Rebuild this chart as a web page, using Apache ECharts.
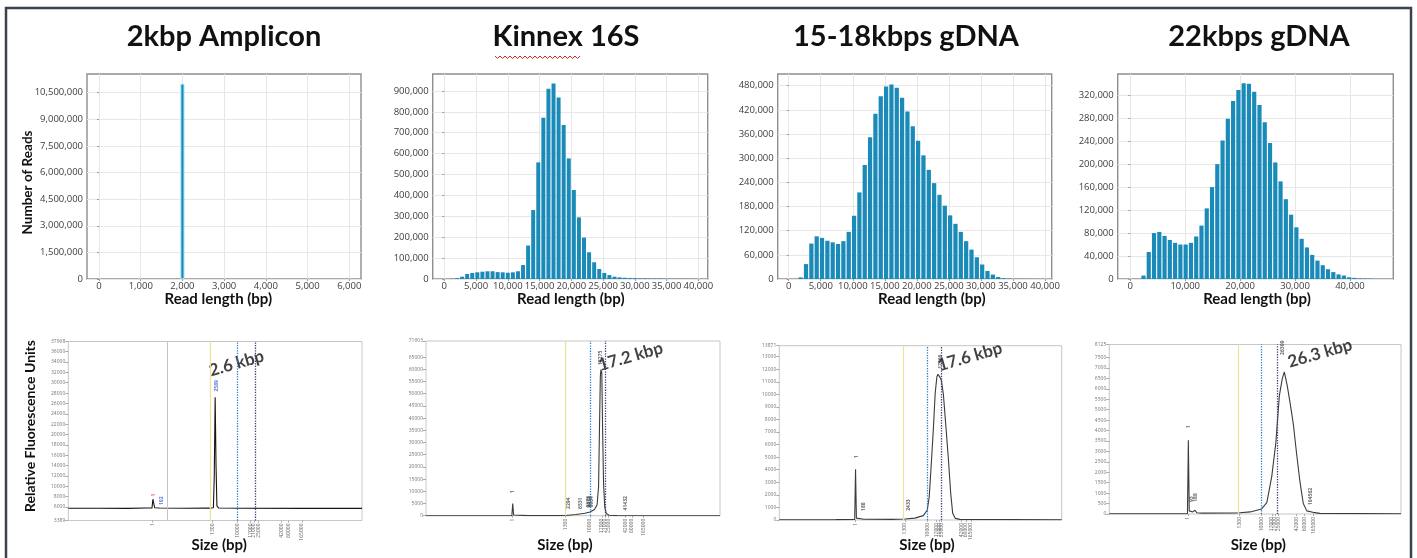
<!DOCTYPE html>
<html lang="en">
<head>
<meta charset="utf-8">
<title>Read length histograms and Femto Pulse traces</title>
<script src="https://cdn.jsdelivr.net/npm/echarts@6.0.0/dist/echarts.min.js"></script>
<style>
  html, body { margin: 0; padding: 0; background: #fff; }
  #box { width: 1417px; height: 558px; }
</style>
</head>
<body>
<!-- one canvas, eight grids: read length histograms on top, Femto Pulse traces below -->
<div id="box"></div>
<script>
// ---------- panel titles ----------
const panelTitles = ['2kbp Amplicon', 'Kinnex 16S', '15-18kbps gDNA', '22kbps gDNA'];

// ---------- top row: read length histograms ----------
// bar centre = first + i * bin (bp), value = number of reads in that bin
const ampliconCenters = [2000];
const ampliconReads = [11000000];

const kinnexFirst = 400, kinnexBin = 800;
const kinnexReads = [0, 1000, 4000, 11000, 24000, 29000, 32000, 35000, 37000, 37000,
  33000, 32000, 30000, 32000, 37000, 67000, 160000, 330000, 558000, 772000,
  911000, 936000, 868000, 737000, 577000, 426000, 295000, 198000, 128000, 80000,
  48000, 29000, 19000, 11000, 8000, 6000, 5000, 4000, 3000, 3000,
  2000, 2000, 2000, 1500, 1000, 1000, 1000, 800, 600, 500];

const gdna18First = 1870, gdna18Bin = 833;
const gdna18Reads = [4000, 37000, 88000, 106000, 102000, 95000, 91000, 87000, 94000, 117000,
  157000, 215000, 283000, 352000, 410000, 454000, 478000, 483000, 475000, 450000,
  416000, 379000, 343000, 307000, 271000, 238000, 209000, 182000, 158000, 137000,
  117000, 94000, 73000, 54000, 36000, 20000, 11000, 5000, 2000, 1000, 500, 300, 200];

const gdna22First = 2400, gdna22Bin = 960;
const gdna22Reads = [6000, 47000, 80000, 82000, 75000, 68000, 63000, 60000, 60000, 63000,
  74000, 93000, 123000, 160000, 200000, 241000, 279000, 310000, 329000, 341000,
  340000, 326000, 303000, 273000, 237000, 203000, 170000, 139000, 112000, 90000,
  70000, 55000, 42000, 32000, 24000, 17000, 12000, 8000, 6000, 3000,
  2000, 1000, 800, 500];

// tick labels of the histograms
const ampliconXTicks = [0, 1000, 2000, 3000, 4000, 5000, 6000];
const kb40XTicks = [0, 5000, 10000, 15000, 20000, 25000, 30000, 35000, 40000];
const kb10XTicks = [0, 10000, 20000, 30000, 40000];
const ampliconYTicks = [0, 1500000, 3000000, 4500000, 6000000, 7500000, 9000000, 10500000];
const kinnexYTicks = [0, 100000, 200000, 300000, 400000, 500000, 600000, 700000, 800000, 900000];
const gdna18YTicks = [0, 60000, 120000, 180000, 240000, 300000, 360000, 420000, 480000];
const gdna22YTicks = [0, 40000, 80000, 120000, 160000, 200000, 240000, 280000, 320000];

// ---------- bottom row: Femto Pulse electropherograms ----------
// x = migration position (0-100 across the plot), y = relative fluorescence units
const ampTrace = [[0, 5750], [10, 5760], [20, 5740], [26.5, 5790], [28.5, 5800], [28.8, 7500],
  [29.1, 7480], [29.4, 5850], [31, 5790], [40, 5760], [48, 5770], [49.4, 5850], [49.7, 12000],
  [50.0, 27200], [50.3, 14000], [50.6, 6200], [51.2, 5800], [60, 5760], [80, 5740], [100, 5730]];
const kinnexTrace = [[0, 0], [29.2, 0], [29.5, 5000], [29.8, 300], [30.3, 80], [35, 40], [45, 50],
  [47.5, 100], [51, 500], [54, 1000], [55.8, 1500], [57.3, 2500], [58.2, 4500], [58.7, 12000],
  [59.0, 35000], [59.3, 57000], [59.5, 59900], [59.8, 58500], [60.1, 33000], [60.4, 13000],
  [60.8, 3500], [61.3, 900], [62.3, 200], [65, 40], [100, 0]];
const gdna18Trace = [[0, 20], [20, 30], [26.7, 40], [27.0, 4030], [27.3, 150], [28, 90], [30, 60],
  [40, 50], [44.5, 80], [48, 150], [51, 350], [52.4, 800], [53.1, 1850], [53.9, 4770], [54.6, 7430],
  [55.2, 10080], [55.8, 11400], [56.2, 11600], [56.9, 11350], [57.4, 11100], [58.1, 10000],
  [59.0, 7430], [59.9, 4770], [60.7, 2120], [61.4, 530], [62.3, 130], [64, 50], [100, 20]];
const gdna22Trace = [[0, 10], [12.0, 10], [12.2, 40], [12.5, 10], [26.8, 20], [27.1, 3530],
  [27.4, 150], [28.0, 200], [28.6, 100], [29.4, 180], [30.0, 60], [32, 40], [44, 50], [48.3, 100],
  [52.2, 242], [54.0, 547], [55.7, 1805], [57.1, 3422], [58.3, 5678], [59.3, 6486], [60.0, 6810],
  [61.0, 6150], [62.0, 5300], [63.1, 4300], [64.2, 2900], [65.4, 1500], [66.5, 500], [67.7, 150],
  [69.8, 80], [72.2, 30], [100, 10]];

// ladder sizes printed under each trace, and where they sit on each trace
const sizeLabels = ['1', '1300', '10000', '17000', '21000', '25000', '42000', '60000', '165000'];
const ampSizePos = [28.7, 49.0, 57.5, 61.9, 63.2, 64.7, 72.6, 75.0, 79.5];
const kinnexSizePos = [29.5, 47.5, 55.8, 59.8, 60.9, 62.0, 67.9, 70.0, 73.9];
const gdna18SizePos = [27.0, 44.5, 52.4, 55.7, 56.7, 57.4, 64.6, 66.1, 67.9];
const gdna22SizePos = [26.9, 44.5, 52.2, 55.8, 56.8, 57.9, 64.2, 66.9, 69.9];

// RFU tick labels
const ampYTicks = [3389, 6000, 8000, 10000, 12000, 14000, 16000, 18000, 20000, 22000, 24000,
  26000, 28000, 30000, 32000, 34000, 36000, 37968];
const kinnexRfuTicks = [0, 5000, 10000, 15000, 20000, 25000, 30000, 35000, 40000, 45000, 50000,
  55000, 60000, 65000, 71603];
const gdna18RfuTicks = [0, 1000, 2000, 3000, 4000, 5000, 6000, 7000, 8000, 9000, 10000, 11000,
  12000, 13000, 13871];
const gdna22RfuTicks = [0, 500, 1000, 1500, 2000, 2500, 3000, 3500, 4000, 4500, 5000, 5500, 6000,
  6500, 7000, 7500, 8125];

// smear window markers: [lower marker (yellow), range start (blue), range end (purple)]
const ampMarkers = [48.5, 57.5, 63.5];
const kinnexMarkers = [47.5, 55.8, 61.0];
const gdna18Markers = [43.9, 52.4, 57.2];
const gdna22Markers = [44.2, 52.2, 57.5];

// small peak calls [position, rfu, text]
const ampPeaks = [[29.0, 8300, '1'], [31.8, 7200, '102'], [50.4, 29400, '2589']];
const kinnexPeaks = [[29.5, 9800, '1'], [48.5, 5100, '2294'], [52.7, 5100, '6531'], [55.2, 5700, '9373'],
  [55.8, 5700, '9858'], [56.3, 5700, '9964'], [59.4, 64700, '17275'], [67.9, 5100, '41432']];
const gdna18Peaks = [[27.4, 5040, '1'], [29.8, 1060, '188'], [45.9, 1190, '2433'], [57.1, 12600, '17566']];
const gdna22Peaks = [[27.1, 4180, '1'], [28.2, 710, '93'], [29.7, 790, '188'], [59.4, 7970, '26309'],
  [69.0, 840, '104562']];

// main peak call written next to each trace
const peakNotes = [[57.3, 33740, '2.6 kbp'], [69.6, 65200, '17.2 kbp'], [67.5, 12990, '17.6 kbp'], [72.2, 7700, '26.3 kbp']];

// ---------- drawing ----------
const sans = '"Open Sans", "DejaVu Sans", sans-serif';
const heavy = 'Lato, "Open Sans", sans-serif';
const fmt = v => Number(v).toLocaleString('en-US');
const bins = (first, bin, reads) => reads.map((v, i) => [first + i * bin, v]);

const histPanels = [
  { left: 87, width: 274, xMin: -288, xMax: 6280, xTicks: ampliconXTicks, yMax: 11550000, yTicks: ampliconYTicks,
    data: ampliconCenters.map((c, i) => [c, ampliconReads[i]]), barWidth: 4, edge: '#8ee0f1' },
  { left: 432.7, width: 275, xMin: -1827, xMax: 41480, xTicks: kb40XTicks, yMax: 981000, yTicks: kinnexYTicks,
    data: bins(kinnexFirst, kinnexBin, kinnexReads), bin: kinnexBin },
  { left: 777.7, width: 274, xMin: -1717, xMax: 41044, xTicks: kb40XTicks, yMax: 509000, yTicks: gdna18YTicks,
    data: bins(gdna18First, gdna18Bin, gdna18Reads), bin: gdna18Bin },
  { left: 1117.7, width: 275.6, xMin: -2294, xMax: 47885, xTicks: kb10XTicks, yMax: 357000, yTicks: gdna22YTicks,
    data: bins(gdna22First, gdna22Bin, gdna22Reads), bin: gdna22Bin }
];

const tracePanels = [
  { left: 68.3, top: 341.5, width: 293.7, height: 179, yMin: 3389, yMax: 37968, yTicks: ampYTicks,
    sizePos: ampSizePos, trace: ampTrace, markers: ampMarkers, extra: 33.7, peaks: ampPeaks, line: '#151515' },
  { left: 426, top: 341, width: 294, height: 174.7, yMin: 0, yMax: 71603, yTicks: kinnexRfuTicks,
    sizePos: kinnexSizePos, trace: kinnexTrace, markers: kinnexMarkers, peaks: kinnexPeaks, line: '#3c3c3c' },
  { left: 779.3, top: 345.7, width: 282.4, height: 174.3, yMin: 0, yMax: 13871, yTicks: gdna18RfuTicks,
    sizePos: gdna18SizePos, trace: gdna18Trace, markers: gdna18Markers, peaks: gdna18Peaks, line: '#3c3c3c' },
  { left: 1109.3, top: 344.5, width: 291.7, height: 169.5, yMin: 0, yMax: 8125, yTicks: gdna22RfuTicks,
    sizePos: gdna22SizePos, trace: gdna22Trace, markers: gdna22Markers, peaks: gdna22Peaks, line: '#3c3c3c' }
];

const grids = [], xAxes = [], yAxes = [], series = [];

// histograms
histPanels.forEach((p, i) => {
  grids.push({ left: p.left, top: 74, width: p.width, height: 205, show: true,
    borderColor: '#8e8e8e', borderWidth: 1.4, backgroundColor: '#fff' });
  xAxes.push({
    type: 'value', gridIndex: i, min: p.xMin, max: p.xMax,
    axisLine: { show: false },
    axisTick: { show: true, length: 2, customValues: p.xTicks, lineStyle: { color: '#9a9a9a' } },
    axisLabel: { customValues: p.xTicks, formatter: fmt, fontSize: 9.5, color: '#3d3d3d',
      fontFamily: sans, margin: 2, hideOverlap: false },
    splitLine: { show: true, lineStyle: { color: '#e7e7e7', width: 1 } }
  });
  yAxes.push({
    type: 'value', gridIndex: i, min: 0, max: p.yMax,
    axisLine: { show: false },
    axisTick: { show: true, length: 2, customValues: p.yTicks, lineStyle: { color: '#9a9a9a' } },
    axisLabel: { customValues: p.yTicks, formatter: fmt, fontSize: 9.5, color: '#3d3d3d',
      fontFamily: sans, margin: 4, hideOverlap: false },
    splitLine: { show: true, lineStyle: { color: '#e7e7e7', width: 1 } }
  });
  const barWidth = p.barWidth || (p.bin / (p.xMax - p.xMin) * p.width - 1.1);
  series.push({
    type: 'bar', xAxisIndex: i, yAxisIndex: i, data: p.data, barWidth: barWidth,
    itemStyle: { color: '#1a8ab8', borderColor: p.edge || '#1a8ab8', borderWidth: p.edge ? 1 : 0 }
  });
});

// electropherograms
const markerStyles = [
  { color: '#ebe497', type: 'solid', width: 1.2 },
  { color: '#2f80c4', type: 'dotted', width: 1.3 },
  { color: '#463a7e', type: 'dotted', width: 1.3 }
];
tracePanels.forEach((p, k) => {
  const i = k + 4;
  grids.push({ left: p.left, top: p.top, width: p.width, height: p.height, show: true,
    borderColor: '#c6c6c6', borderWidth: 1, backgroundColor: '#fff' });
  xAxes.push({
    type: 'value', gridIndex: i, min: 0, max: 100,
    axisLine: { show: false },
    axisTick: { show: true, length: 2, customValues: p.sizePos, lineStyle: { color: '#aaa' } },
    axisLabel: { customValues: p.sizePos, rotate: 90, fontSize: 5, color: '#666', fontFamily: sans,
      margin: 3, hideOverlap: false,
      formatter: v => { const j = p.sizePos.indexOf(v); return j < 0 ? '' : sizeLabels[j]; } },
    splitLine: { show: false }
  });
  yAxes.push({
    type: 'value', gridIndex: i, min: p.yMin, max: p.yMax,
    axisLine: { show: false },
    axisTick: { show: true, length: 3, customValues: p.yTicks, lineStyle: { color: '#aaa' } },
    axisLabel: { customValues: p.yTicks, formatter: v => String(v), fontSize: 5, color: '#777',
      fontFamily: sans, margin: 3, hideOverlap: false },
    splitLine: { show: false }
  });
  const lines = p.markers.map((m, j) => ({ xAxis: m, lineStyle: markerStyles[j] }));
  if (p.extra) lines.unshift({ xAxis: p.extra, lineStyle: { color: '#c4c4c4', type: 'solid', width: 1 } });
  series.push({
    type: 'line', xAxisIndex: i, yAxisIndex: i, data: p.trace, showSymbol: false, symbol: 'none',
    lineStyle: { color: p.line, width: 1.1 },
    markLine: { silent: true, symbol: ['none', 'none'], label: { show: false }, data: lines }
  });
  series.push({
    type: 'scatter', xAxisIndex: i, yAxisIndex: i, symbolSize: 1, itemStyle: { color: 'transparent' },
    data: p.peaks.map(d => ({ name: d[2], value: [d[0], d[1]] })),
    label: { show: true, position: 'inside', formatter: '{b}', rotate: 90, fontSize: 5,
      fontFamily: sans, fontWeight: 'bold', textBorderWidth: 0,
      color: k === 0 ? '#3b57c9' : '#444' }
  });
  const note = peakNotes[k];
  series.push({
    type: 'scatter', xAxisIndex: i, yAxisIndex: i, symbolSize: 1, itemStyle: { color: 'transparent' },
    data: [{ name: note[2], value: [note[0], note[1]] }],
    label: { show: true, position: 'inside', formatter: '{b}', rotate: 16, fontSize: 17,
      fontWeight: 'bold', fontFamily: heavy, color: '#111', textBorderWidth: 0 }
  });
});
// the first peak call of the amplicon trace is printed in red
series[5].data[0].label = { color: '#d2343a' };

// titles, axis captions, frame
const titleX = [224, 566, 906, 1259];
const readLenX = [218.3, 570.8, 931.8, 1257];
const sizeX = [219.2, 565, 927, 1258.3];
const txt = (text, x, y, size, rot) => ({
  type: 'text', x: x, y: y, rotation: rot || 0, silent: true,
  style: { text: text, fill: '#111', font: 'bold ' + size + 'px ' + heavy,
    align: 'center', verticalAlign: 'middle', textAlign: 'center', textVerticalAlign: 'middle' }
});
const graphics = [
  { type: 'rect', shape: { x: 6, y: 8, width: 1405, height: 560 }, silent: true,
    style: { fill: 'none', stroke: '#3b414d', lineWidth: 2.5 } }
];
panelTitles.forEach((t, i) => graphics.push(txt(t, titleX[i], 37, 29)));
readLenX.forEach(x => graphics.push(txt('Read length (bp)', x, 299, 15)));
sizeX.forEach(x => graphics.push(txt('Size (bp)', x, 545, 15)));
graphics.push(txt('Number of Reads', 27.5, 182.5, 13.5, Math.PI / 2));
graphics.push(txt('Relative Fluorescence Units', 30, 426, 14, Math.PI / 2));
// spell-check squiggle under "Kinnex"
const squiggle = [];
for (let x = 495, j = 0; x <= 582; x += 2.5, j++) squiggle.push([x, j % 2 ? 58.5 : 56]);
graphics.push({ type: 'polyline', silent: true, shape: { points: squiggle },
  style: { stroke: '#e02424', lineWidth: 1, fill: 'none' } });

const myChart = echarts.init(document.getElementById('box'), null, { renderer: 'canvas' });
myChart.setOption({
  backgroundColor: '#fff',
  animation: false,
  grid: grids,
  xAxis: xAxes,
  yAxis: yAxes,
  series: series,
  graphic: graphics
});
</script>
</body>
</html>
